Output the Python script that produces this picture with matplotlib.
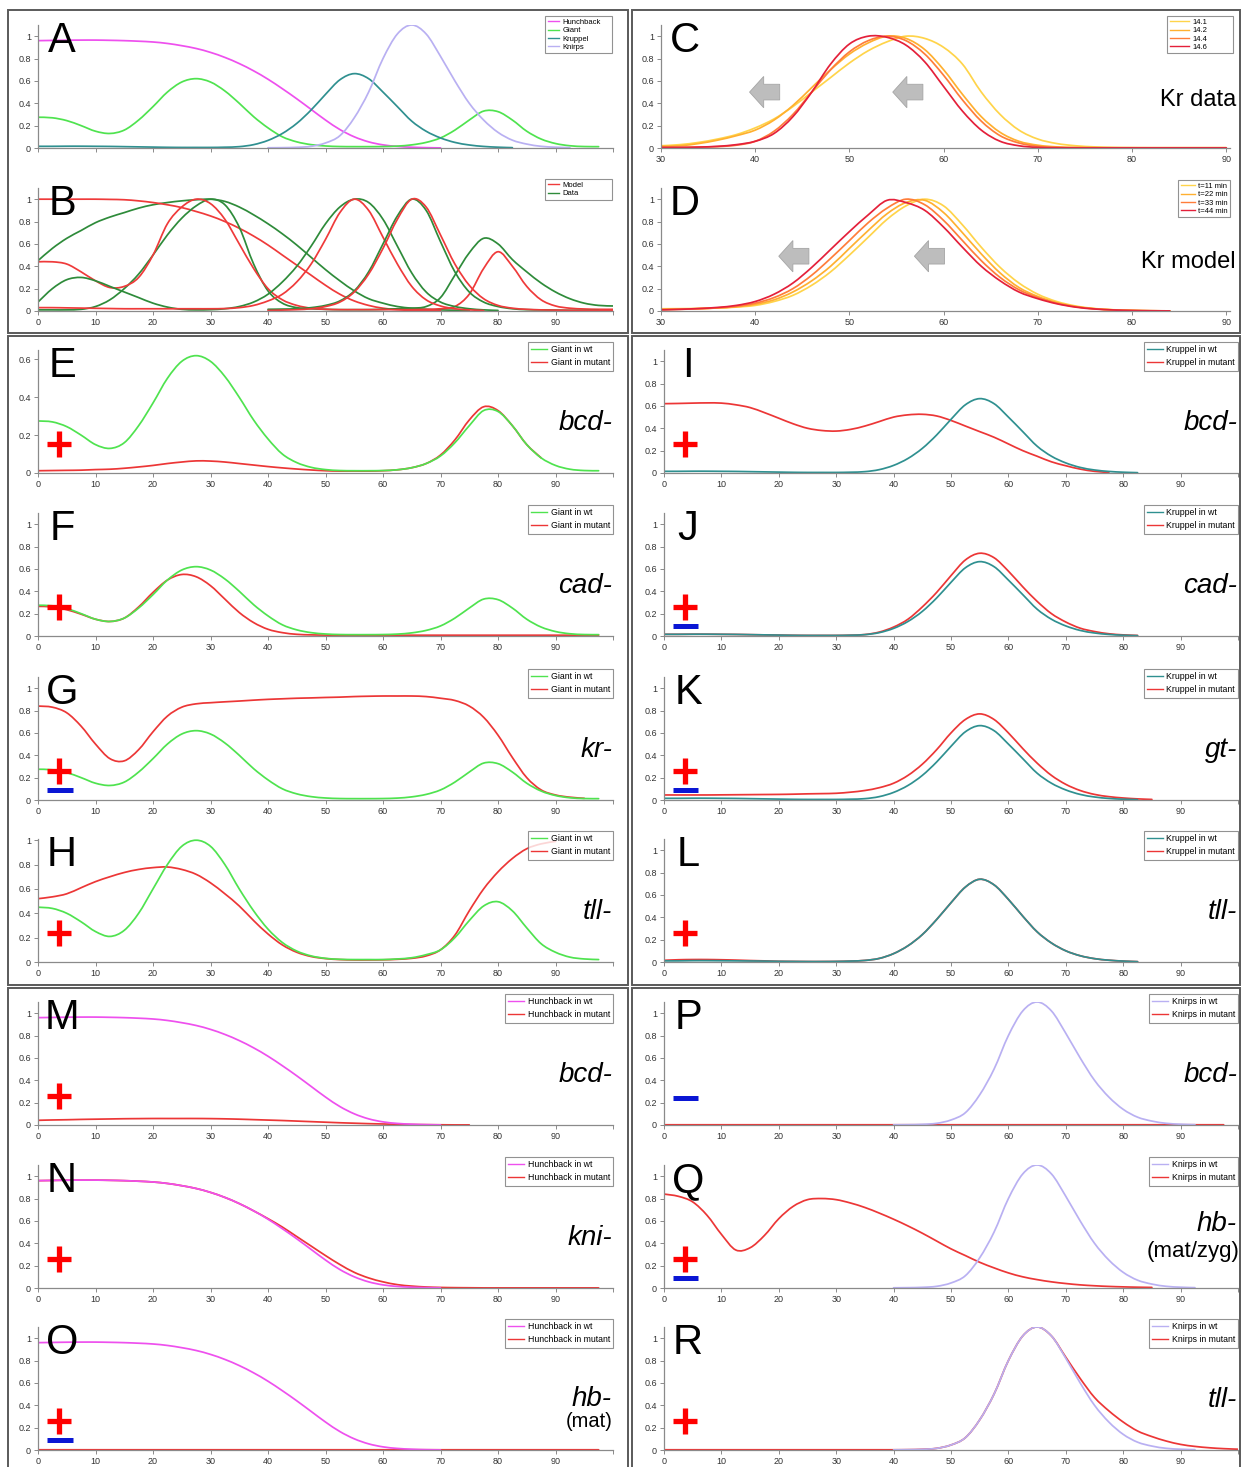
import numpy as np
import matplotlib
matplotlib.use("Agg")
import matplotlib.pyplot as plt
from matplotlib.lines import Line2D
from matplotlib.path import Path
from matplotlib.patches import Rectangle, FancyArrow, PathPatch

plt.rcParams["font.family"] = ["Liberation Sans", "DejaVu Sans"]

nan = np.nan

# position along the embryo (% egg length)
pos = [0, 2.5, 5, 7.5, 10, 12.5, 15, 17.5, 20, 22.5, 25, 27.5, 30, 32.5, 35, 37.5,
       40, 42.5, 45, 47.5, 50, 52.5, 55, 57.5, 60, 62.5, 65, 67.5, 70, 72.5, 75,
       77.5, 80, 82.5, 85, 87.5, 90, 92.5, 95, 97.5, 100]
pos_kr = [30, 32, 34, 36, 38, 40, 42, 44, 46, 48, 50, 52, 54, 56, 58, 60, 62, 64,
          66, 68, 70, 72, 74, 76, 78, 80, 82, 84, 86, 88, 90]

# wild type profiles (panel A and wt curves of E-R)
hb_wt = [0.96, 0.962, 0.964, 0.965, 0.965, 0.963, 0.96, 0.955, 0.948, 0.935, 0.915,
         0.89, 0.855, 0.81, 0.755, 0.69, 0.615, 0.53, 0.44, 0.345, 0.25, 0.165, 0.1,
         0.055, 0.028, 0.014, 0.007, 0.003, 0.001,
         nan, nan, nan, nan, nan, nan, nan, nan, nan, nan, nan, nan]
gt_wt = [0.275, 0.27, 0.245, 0.2, 0.15, 0.13, 0.16, 0.25, 0.37, 0.5, 0.59,
         0.62, 0.59, 0.51, 0.4, 0.28, 0.18, 0.1, 0.055, 0.03, 0.018,
         0.013, 0.012, 0.012, 0.013, 0.017, 0.028, 0.05, 0.09, 0.16, 0.25,
         0.33, 0.325, 0.25, 0.15, 0.08, 0.04, 0.02, 0.013, 0.012, nan]
kr_wt = [0.015, 0.015, 0.016, 0.016, 0.015, 0.014, 0.012, 0.01, 0.008, 0.006, 0.005,
         0.005, 0.005, 0.007, 0.012, 0.03, 0.068, 0.13, 0.22, 0.34, 0.48, 0.61,
         0.665, 0.62, 0.5, 0.37, 0.24, 0.15, 0.09, 0.05, 0.027, 0.014, 0.007, 0.003,
         nan, nan, nan, nan, nan, nan, nan]
kni_wt = [nan, nan, nan, nan, nan, nan, nan, nan, nan, nan, nan, nan, nan, nan, nan, nan,
          0.002, 0.003, 0.006, 0.015, 0.045, 0.11, 0.27, 0.5, 0.8, 1.02, 1.1, 1.02,
          0.82, 0.6, 0.4, 0.25, 0.14, 0.07, 0.035, 0.015, 0.007, 0.003, nan, nan, nan]

# panel B: model vs data, normalised
hb_model = [1.0, 1.0, 1.0, 1.0, 1.0, 0.998, 0.995, 0.985, 0.97, 0.95, 0.925, 0.89,
            0.85, 0.8, 0.74, 0.67, 0.59, 0.5, 0.41, 0.32, 0.23, 0.15, 0.09, 0.05,
            0.025, 0.012, 0.005, 0.002, 0.001,
            nan, nan, nan, nan, nan, nan, nan, nan, nan, nan, nan, nan]
hb_data = [0.45, 0.56, 0.65, 0.72, 0.79, 0.84, 0.88, 0.92, 0.95, 0.97, 0.985, 0.995,
           1.0, 0.98, 0.93, 0.86, 0.78, 0.69, 0.59, 0.48, 0.37, 0.27, 0.18, 0.11,
           0.07, 0.04, 0.025, 0.015, 0.01, 0.007, 0.005,
           nan, nan, nan, nan, nan, nan, nan, nan, nan, nan]
gt_model = [0.44, 0.44, 0.42, 0.35, 0.27, 0.21, 0.22, 0.3, 0.5, 0.78, 0.93,
            1.0, 0.96, 0.82, 0.6, 0.38, 0.2, 0.1, 0.05, 0.025, 0.015,
            0.012, 0.012, 0.012, 0.012, 0.012, 0.012, 0.015, 0.02, 0.04, 0.15,
            0.38, 0.53, 0.4, 0.22, 0.1, 0.045, 0.025, 0.018, 0.015, 0.015]
gt_data = [0.01, 0.01, 0.01, 0.015, 0.04, 0.1, 0.2, 0.33, 0.5, 0.68, 0.83,
           0.94, 1.0, 0.95, 0.75, 0.42, 0.18, 0.07, 0.03, 0.02, 0.015,
           0.012, 0.012, 0.012, 0.015, 0.02, 0.025, 0.04, 0.12, 0.32, 0.52,
           0.65, 0.6, 0.46, 0.35, 0.25, 0.17, 0.11, 0.07, 0.05, 0.045]
kr_model = [0.03, 0.03, 0.028, 0.026, 0.024, 0.022, 0.02, 0.02, 0.02, 0.02, 0.02,
            0.02, 0.02, 0.022, 0.03, 0.05, 0.09, 0.15, 0.26, 0.42, 0.64, 0.88,
            1.0, 0.9, 0.66, 0.42, 0.22, 0.1, 0.045, 0.02, 0.01, 0.005,
            nan, nan, nan, nan, nan, nan, nan, nan, nan]
kr_data = [0.08, 0.2, 0.28, 0.3, 0.27, 0.22, 0.17, 0.12, 0.07, 0.035, 0.015,
           0.01, 0.012, 0.02, 0.04, 0.08, 0.15, 0.26, 0.4, 0.58, 0.78, 0.93,
           1.0, 0.97, 0.82, 0.58, 0.34, 0.17, 0.08, 0.04, 0.02, 0.01, 0.005,
           nan, nan, nan, nan, nan, nan, nan, nan]
kni_model = [nan, nan, nan, nan, nan, nan, nan, nan, nan, nan, nan, nan, nan, nan, nan, nan,
             0.005, 0.008, 0.012, 0.02, 0.04, 0.08, 0.17, 0.33, 0.56, 0.82, 1.0, 0.93,
             0.68, 0.42, 0.23, 0.11, 0.05, 0.025, 0.015, 0.01, 0.008, 0.006, 0.006,
             0.006, 0.006]
kni_data = [nan, nan, nan, nan, nan, nan, nan, nan, nan, nan, nan, nan, nan, nan, nan, nan,
            0.015, 0.017, 0.02, 0.03, 0.05, 0.09, 0.18, 0.35, 0.6, 0.85, 1.0, 0.9,
            0.62, 0.35, 0.17, 0.08, 0.04, 0.02, 0.012, 0.01, 0.008, 0.006, 0.005,
            0.005, nan]

# panels C, D: Kruppel domain shift
kr_times_data = ["14.1", "14.2", "14.4", "14.6"]
kr_141 = [0.02, 0.03, 0.05, 0.08, 0.12, 0.18, 0.26, 0.37, 0.5, 0.63, 0.76, 0.87, 0.95,
          1.0, 0.98, 0.9, 0.75, 0.5, 0.3, 0.16, 0.08, 0.04, 0.02, 0.01, 0.005, 0.003,
          0.002, 0.002, 0.002, 0.002, 0.002]
kr_142 = [0.015, 0.02, 0.04, 0.07, 0.11, 0.16, 0.25, 0.38, 0.54, 0.7, 0.84, 0.94, 1.0,
          0.98, 0.88, 0.7, 0.48, 0.28, 0.14, 0.06, 0.025, 0.01, 0.005, 0.003,
          0.002, 0.002, 0.002, 0.002, 0.002, 0.002, 0.002]
kr_144 = [0.005, 0.006, 0.008, 0.012, 0.025, 0.06, 0.15, 0.3, 0.5, 0.7, 0.86, 0.96, 1.0,
          0.96, 0.84, 0.65, 0.43, 0.24, 0.11, 0.045, 0.015, 0.005, 0.003,
          0.002, 0.002, 0.002, 0.002, 0.002, 0.002, 0.002, 0.002]
kr_146 = [0.005, 0.005, 0.008, 0.015, 0.03, 0.06, 0.13, 0.28, 0.5, 0.75, 0.93, 1.0, 0.99,
          0.92, 0.77, 0.55, 0.33, 0.16, 0.06, 0.02, 0.005, 0.002,
          0.001, 0.001, 0.001, 0.001, 0.001, 0.001, 0.001, 0.001, 0.001]
kr_times_model = ["t=11 min", "t=22 min", "t=33 min", "t=44 min"]
kr_t11 = [0.02, 0.021, 0.023, 0.027, 0.035, 0.05, 0.085, 0.14, 0.23, 0.35, 0.5, 0.66,
          0.82, 0.94, 1.0, 0.94, 0.77, 0.57, 0.39, 0.25, 0.15, 0.085, 0.045, 0.022,
          0.011, 0.005, 0.002, 0.001, nan, nan, nan]
kr_t22 = [0.015, 0.017, 0.021, 0.027, 0.038, 0.06, 0.1, 0.17, 0.27, 0.4, 0.56, 0.72,
          0.87, 0.97, 0.99, 0.88, 0.7, 0.51, 0.34, 0.21, 0.13, 0.075, 0.04, 0.02,
          0.01, 0.005, 0.002, 0.001, nan, nan, nan]
kr_t33 = [0.012, 0.015, 0.02, 0.028, 0.042, 0.07, 0.12, 0.2, 0.32, 0.47, 0.63, 0.79,
          0.92, 1.0, 0.95, 0.81, 0.63, 0.45, 0.3, 0.19, 0.12, 0.07, 0.038, 0.02,
          0.01, 0.005, 0.002, 0.001, nan, nan, nan]
kr_t44 = [0.01, 0.015, 0.022, 0.032, 0.05, 0.085, 0.15, 0.25, 0.39, 0.55, 0.71, 0.86,
          0.99, 0.97, 0.9, 0.75, 0.57, 0.4, 0.27, 0.17, 0.11, 0.065, 0.035, 0.018,
          0.009, 0.004, 0.002, 0.001, nan, nan, nan]

# mutant profiles
gt_bcd = [0.012, 0.013, 0.014, 0.015, 0.018, 0.02, 0.025, 0.032, 0.04, 0.05, 0.058,
          0.064, 0.063, 0.058, 0.05, 0.042, 0.034, 0.027, 0.021, 0.016, 0.012,
          0.01, 0.01, 0.01, 0.012, 0.017, 0.028, 0.05, 0.095, 0.175, 0.28,
          0.35, 0.33, 0.25, 0.15, 0.08, nan, nan, nan, nan, nan]
gt_cad = [0.265, 0.26, 0.235, 0.195, 0.15, 0.13, 0.16, 0.26, 0.39, 0.5, 0.55,
          0.53, 0.45, 0.33, 0.21, 0.12, 0.06, 0.03, 0.015, 0.01, 0.008,
          0.007, 0.007, 0.007, 0.007, 0.007, 0.007, 0.007, 0.007, 0.007, 0.007,
          0.007, 0.007, 0.007, 0.007, 0.007, 0.007, 0.007, 0.007, 0.007, nan]
gt_kr = [0.84, 0.83, 0.78, 0.66, 0.5, 0.37, 0.35, 0.45, 0.61, 0.75, 0.83,
         0.86, 0.87, 0.878, 0.885, 0.893, 0.9, 0.905, 0.91, 0.913, 0.917,
         0.92, 0.925, 0.928, 0.93, 0.93, 0.93, 0.925, 0.91, 0.89, 0.84,
         0.74, 0.58, 0.38, 0.2, 0.09, 0.045, 0.025, 0.015, nan, nan]
gt_wt_h = [0.45, 0.44, 0.4, 0.33, 0.25, 0.21, 0.26, 0.4, 0.6, 0.8, 0.95,
           1.0, 0.95, 0.8, 0.6, 0.42, 0.27, 0.16, 0.09, 0.05, 0.03,
           0.022, 0.02, 0.02, 0.02, 0.025, 0.035, 0.06, 0.1, 0.2, 0.34,
           0.46, 0.495, 0.42, 0.28, 0.15, 0.08, 0.04, 0.025, 0.02, nan]
gt_tll = [0.52, 0.535, 0.56, 0.61, 0.66, 0.7, 0.735, 0.76, 0.775, 0.78, 0.76,
          0.72, 0.65, 0.56, 0.46, 0.34, 0.23, 0.14, 0.08, 0.045, 0.028,
          0.02, 0.017, 0.017, 0.018, 0.022, 0.03, 0.05, 0.1, 0.22, 0.42,
          0.6, 0.74, 0.85, 0.93, 0.97, 0.99, nan, nan, nan, nan]
kr_bcd = [0.62, 0.622, 0.625, 0.627, 0.625, 0.61, 0.585, 0.54, 0.49, 0.44, 0.4,
          0.38, 0.375, 0.39, 0.42, 0.46, 0.5, 0.52, 0.525, 0.51, 0.47,
          0.42, 0.37, 0.32, 0.26, 0.2, 0.15, 0.1, 0.065, 0.035, 0.015, 0.005,
          nan, nan, nan, nan, nan, nan, nan, nan, nan]
kr_cad = [0.015, 0.015, 0.016, 0.016, 0.015, 0.014, 0.012, 0.01, 0.008, 0.006, 0.005,
          0.005, 0.005, 0.007, 0.013, 0.035, 0.08, 0.15, 0.26, 0.39, 0.54,
          0.68, 0.74, 0.7, 0.58, 0.44, 0.31, 0.2, 0.125, 0.07, 0.04,
          0.02, 0.01, 0.005, nan, nan, nan, nan, nan, nan, nan]
kr_gt = [0.045, 0.045, 0.045, 0.045, 0.046, 0.047, 0.048, 0.049, 0.05, 0.052, 0.055,
         0.057, 0.06, 0.07, 0.085, 0.11, 0.15, 0.22, 0.32, 0.45, 0.6,
         0.72, 0.77, 0.72, 0.6, 0.46, 0.33, 0.22, 0.14, 0.085, 0.05,
         0.03, 0.018, 0.01, 0.005, nan, nan, nan, nan, nan, nan]
kr_wt_l = [0.01, 0.01, 0.012, 0.012, 0.011, 0.01, 0.009, 0.008, 0.006, 0.005, 0.004,
           0.004, 0.005, 0.008, 0.014, 0.032, 0.075, 0.145, 0.245, 0.38, 0.53,
           0.67, 0.74, 0.69, 0.56, 0.41, 0.27, 0.17, 0.1, 0.056, 0.03,
           0.016, 0.008, 0.003, nan, nan, nan, nan, nan, nan, nan]
kr_tll = [0.015, 0.02, 0.022, 0.022, 0.02, 0.017, 0.013, 0.01, 0.006, 0.005, 0.004,
          0.004, 0.005, 0.008, 0.014, 0.032, 0.075, 0.145, 0.245, 0.38, 0.53,
          0.67, 0.74, 0.69, 0.56, 0.41, 0.27, 0.17, 0.1, 0.056, 0.03,
          0.016, 0.008, 0.003, nan, nan, nan, nan, nan, nan, nan]
hb_bcd = [0.042, 0.045, 0.047, 0.05, 0.052, 0.054, 0.056, 0.057, 0.058, 0.058, 0.058,
          0.058, 0.057, 0.055, 0.052, 0.048, 0.044, 0.04, 0.035, 0.03, 0.025,
          0.02, 0.016, 0.012, 0.009, 0.006, 0.004, 0.003, 0.002, 0.001, 0.001,
          nan, nan, nan, nan, nan, nan, nan, nan, nan, nan]
hb_kni = [0.96, 0.962, 0.964, 0.965, 0.965, 0.963, 0.96, 0.955, 0.948, 0.935, 0.915,
          0.89, 0.855, 0.81, 0.755, 0.69, 0.62, 0.545, 0.46, 0.375, 0.29,
          0.21, 0.14, 0.09, 0.055, 0.03, 0.017, 0.009, 0.005, 0.003, 0.002,
          0.001, 0.001, 0.001, 0.001, 0.001, 0.001, 0.001, 0.001, 0.001, nan]
hb_hbmat = [0.002, 0.002, 0.002, 0.002, 0.002, 0.002, 0.002, 0.002, 0.002, 0.002,
            0.002, 0.002, 0.002, 0.002, 0.002, 0.002, 0.002, 0.002, 0.002, 0.002,
            0.002, 0.002, 0.002, 0.002, 0.002, 0.002, 0.002, 0.002, 0.002, 0.002,
            0.002, 0.002, 0.002, 0.002, 0.002, 0.002, 0.002, 0.002, 0.002, 0.002, nan]
kni_bcd = [0.002, 0.002, 0.002, 0.002, 0.002, 0.002, 0.002, 0.002, 0.002, 0.002,
           0.002, 0.002, 0.002, 0.002, 0.002, 0.002, 0.002, 0.002, 0.002, 0.002,
           0.002, 0.002, 0.002, 0.002, 0.002, 0.002, 0.002, 0.002, 0.002, 0.002,
           0.002, 0.002, 0.002, 0.002, 0.002, 0.002, 0.002, 0.002, 0.002, 0.002, nan]
kni_hb = [0.84, 0.82, 0.77, 0.65, 0.48, 0.34, 0.36, 0.47, 0.62, 0.73, 0.79,
          0.8, 0.79, 0.76, 0.72, 0.67, 0.615, 0.555, 0.49, 0.42, 0.35,
          0.29, 0.23, 0.18, 0.135, 0.1, 0.075, 0.055, 0.04, 0.028, 0.02,
          0.014, 0.01, 0.007, 0.005, nan, nan, nan, nan, nan, nan]
kni_tll = [0.002, 0.002, 0.002, 0.002, 0.002, 0.002, 0.002, 0.002, 0.002, 0.002,
           0.002, 0.002, 0.002, 0.002, 0.002, 0.002,
           0.002, 0.003, 0.006, 0.015, 0.045, 0.11, 0.27, 0.5, 0.8, 1.02, 1.1, 1.02,
           0.83, 0.64, 0.47, 0.35, 0.25, 0.17, 0.12, 0.08, 0.05, 0.032, 0.02,
           0.012, 0.007]

HB, GT, KR, KNI = "#ee50ee", "#4fe34f", "#2f9090", "#b9b0f2"
MUT = "#ec3636"
MODEL, DATA = "#ef3a3a", "#2e8b3a"
C_TIMES = ["#ffd44a", "#ffb030", "#ff7d3a", "#e4203a"]
AXIS = "#8a8a8a"

W, H = 1242, 1467
AX_H = 123
LW = 1.25

fig = plt.figure(figsize=(W / 100, H / 100), dpi=100)


def new_ax(left, right, base):
    return fig.add_axes([left / W, 1 - base / H, (right - left) / W, AX_H / H])


def curve(ax, xs, ys, color):
    # smoothed line through the sampled points (like a spreadsheet "smoothed line")
    xs = np.asarray(xs, float)
    ys = np.asarray(ys, float)
    idx = np.flatnonzero(~np.isnan(ys))
    runs = np.split(idx, np.flatnonzero(np.diff(idx) > 1) + 1)
    for r in runs:
        if len(r) < 2:
            continue
        p = np.column_stack([xs[r], ys[r]])
        pe = np.vstack([p[0], p, p[-1]])
        verts, codes = [p[0]], [Path.MOVETO]
        for i in range(len(p) - 1):
            c1 = pe[i + 1] + (pe[i + 2] - pe[i]) / 6
            c2 = pe[i + 2] - (pe[i + 3] - pe[i + 1]) / 6
            verts += [c1, c2, pe[i + 2]]
            codes += [Path.CURVE4] * 3
        ax.add_patch(PathPatch(Path(verts, codes), fill=False, edgecolor=color,
                               lw=LW, capstyle="round", joinstyle="round"))


def dress(ax, xlim, ylim, yticks, xticks, xlabels=True):
    ax.set_xlim(xlim)
    ax.set_ylim(ylim)
    for side in ("top", "right"):
        ax.spines[side].set_visible(False)
    for side in ("left", "bottom"):
        ax.spines[side].set_color(AXIS)
        ax.spines[side].set_linewidth(0.9)
    ax.set_yticks(yticks)
    ax.set_yticklabels([f"{t:g}" for t in yticks])
    ax.set_xticks(xticks)
    if xlabels:
        ax.set_xticklabels([str(t) if t < 100 else "" for t in xticks])
    else:
        ax.set_xticklabels([])
    ax.tick_params(length=3, width=0.7, color=AXIS, labelsize=6.5,
                   labelcolor="#333333", pad=2)
    ax.patch.set_alpha(0)


def legend(ax, handles, labels, size=6.3, spacing=0.5, hlen=1.8, box=None):
    kw = dict(fontsize=size, frameon=True, fancybox=False, handlelength=hlen,
              handletextpad=0.4, borderpad=0.35, labelspacing=spacing, borderaxespad=0)
    if box is None:
        leg = ax.legend(handles, labels, loc="upper right",
                        bbox_to_anchor=(1.0, 1 + 8 / AX_H), **kw)
    else:
        leg = ax.legend(handles, labels, loc="upper left", mode="expand",
                        bbox_to_anchor=(box[0], 1 + 9 / AX_H, box[1], 0), **kw)
    leg.get_frame().set_edgecolor("#777777")
    leg.get_frame().set_linewidth(0.8)
    leg.set_zorder(5)


def letter(ax, s):
    ax.annotate(s, xy=(0, 0.78), xycoords="axes fraction", xytext=(24, 0),
                textcoords="offset pixels", ha="center", va="baseline", fontsize=30)


def label(ax, s, y=0.35, italic=True, size=20, dx=-1):
    ax.annotate(s, xy=(1, y), xycoords="axes fraction", xytext=(dx, 0),
                textcoords="offset pixels", ha="right", va="baseline",
                fontsize=size, fontstyle="italic" if italic else "normal")


def plus(ax, y=29):
    yf = y / AX_H
    ax.plot([0.016, 0.058], [yf, yf], transform=ax.transAxes, color="#ff0000",
            lw=3.8, solid_capstyle="butt", clip_on=False, zorder=6)
    ax.plot([0.037, 0.037], [yf - 13 / AX_H, yf + 13 / AX_H], transform=ax.transAxes,
            color="#ff0000", lw=3.8, solid_capstyle="butt", clip_on=False, zorder=6)


def minus(ax, y=10):
    yf = y / AX_H
    ax.plot([0.016, 0.060], [yf, yf], transform=ax.transAxes, color="#0a16d4",
            lw=3.6, solid_capstyle="butt", clip_on=False, zorder=6)


def lh(color):
    return Line2D([], [], color=color, lw=1.0)


full_ticks = list(range(0, 101, 10))
y_ticks = [0, 0.2, 0.4, 0.6, 0.8, 1]

# ---- frames around the panel groups
for (x0, y0, x1, y1) in [(8, 10, 628, 333), (632, 10, 1240, 333),
                         (8, 336, 628, 985), (632, 336, 1240, 985),
                         (8, 988, 628, 1475), (632, 988, 1240, 1475)]:
    fig.patches.append(Rectangle((x0 / W, 1 - y1 / H), (x1 - x0) / W, (y1 - y0) / H,
                                 transform=fig.transFigure, fill=False,
                                 edgecolor="#5a5a5a", lw=1.4))

# ---- A
ax = new_ax(38, 613, 148)
for ys, c in [(hb_wt, HB), (gt_wt, GT), (kr_wt, KR), (kni_wt, KNI)]:
    curve(ax, pos, ys, c)
dress(ax, (0, 100), (0, 1.1), y_ticks, full_ticks, xlabels=False)
legend(ax, [lh(HB), lh(GT), lh(KR), lh(KNI)], ["Hunchback", "Giant", "Kruppel", "Knirps"],
       size=5.5, spacing=0.12, hlen=1.5, box=(0.882, 0.117))
letter(ax, "A")

# ---- B
ax = new_ax(38, 613, 311)
for m, d in [(hb_model, hb_data), (gt_model, gt_data), (kr_model, kr_data),
             (kni_model, kni_data)]:
    curve(ax, pos, d, DATA)
    curve(ax, pos, m, MODEL)
dress(ax, (0, 100), (0, 1.1), y_ticks, full_ticks)
legend(ax, [lh(MODEL), lh(DATA)], ["Model", "Data"], size=5.5, spacing=0.12, hlen=1.5,
       box=(0.882, 0.117))
letter(ax, "B")

# ---- C
ax = new_ax(661, 1230, 148)
for ys, c in zip([kr_141, kr_142, kr_144, kr_146], C_TIMES):
    curve(ax, pos_kr, ys, c)
dress(ax, (30, 90.4), (0, 1.1), y_ticks, list(range(30, 91, 10)))
legend(ax, [lh(c) for c in C_TIMES], kr_times_data, size=5.5, spacing=0.12, hlen=2.6,
       box=(0.889, 0.116))
for tail in (42.6, 57.8):
    ax.add_patch(FancyArrow(tail, 0.5, -3.2, 0, width=0.14, head_width=0.28,
                            head_length=1.5, length_includes_head=True,
                            fc="#bdbdbd", ec="#a5a5a5", lw=0.6, zorder=4))
letter(ax, "C")
label(ax, "Kr data", y=0.34, italic=False, size=17, dx=6)

# ---- D
ax = new_ax(661, 1230, 311)
for ys, c in zip([kr_t11, kr_t22, kr_t33, kr_t44], C_TIMES):
    curve(ax, pos_kr, ys, c)
dress(ax, (30, 90.4), (0, 1.1), y_ticks, list(range(30, 91, 10)))
legend(ax, [lh(c) for c in C_TIMES], kr_times_model, size=5.5, spacing=0.12, hlen=1.8)
for tail in (45.7, 60.1):
    ax.add_patch(FancyArrow(tail, 0.49, -3.2, 0, width=0.14, head_width=0.28,
                            head_length=1.5, length_includes_head=True,
                            fc="#bdbdbd", ec="#a5a5a5", lw=0.6, zorder=4))
letter(ax, "D")
label(ax, "Kr model", y=0.35, italic=False, size=17, dx=6)

# ---- mutant panels
LEFT, RIGHT = (38, 613), (664, 1238)
panels = [
    ("E", LEFT, 473, gt_wt, gt_bcd, GT, "Giant", ["bcd-"], "+", (0, 0.65)),
    ("F", LEFT, 636, gt_wt, gt_cad, GT, "Giant", ["cad-"], "+", (0, 1.1)),
    ("G", LEFT, 800, gt_wt, gt_kr, GT, "Giant", ["kr-"], "+-", (0, 1.1)),
    ("H", LEFT, 962, gt_wt_h, gt_tll, GT, "Giant", ["tll-"], "+", (0, 1.01)),
    ("I", RIGHT, 473, kr_wt, kr_bcd, KR, "Kruppel", ["bcd-"], "+", (0, 1.1)),
    ("J", RIGHT, 636, kr_wt, kr_cad, KR, "Kruppel", ["cad-"], "+-", (0, 1.1)),
    ("K", RIGHT, 800, kr_wt, kr_gt, KR, "Kruppel", ["gt-"], "+-", (0, 1.1)),
    ("L", RIGHT, 962, kr_wt_l, kr_tll, KR, "Kruppel", ["tll-"], "+", (0, 1.1)),
    ("M", LEFT, 1125, hb_wt, hb_bcd, HB, "Hunchback", ["bcd-"], "+", (0, 1.1)),
    ("N", LEFT, 1288, hb_wt, hb_kni, HB, "Hunchback", ["kni-"], "+", (0, 1.1)),
    ("O", LEFT, 1450, hb_wt, hb_hbmat, HB, "Hunchback", ["hb-", "(mat)"], "+-", (0, 1.1)),
    ("P", RIGHT, 1125, kni_wt, kni_bcd, KNI, "Knirps", ["bcd-"], "-", (0, 1.1)),
    ("Q", RIGHT, 1288, kni_wt, kni_hb, KNI, "Knirps", ["hb-", "(mat/zyg)"], "+-", (0, 1.1)),
    ("R", RIGHT, 1450, kni_wt, kni_tll, KNI, "Knirps", ["tll-"], "+", (0, 1.1)),
]

for name, (x0, x1), base, wt, mut, col, gene, glabel, marks, ylim in panels:
    ax = new_ax(x0, x1, base)
    curve(ax, pos, mut, MUT)
    curve(ax, pos, wt, col)
    yt = [0, 0.2, 0.4, 0.6] if ylim[1] < 1 else y_ticks
    dress(ax, (0, 100), ylim, yt, full_ticks)
    legend(ax, [lh(col), lh(MUT)], [f"{gene} in wt", f"{gene} in mutant"])
    letter(ax, name)
    if len(glabel) == 1:
        label(ax, glabel[0])
    else:
        if name == "Q":
            label(ax, glabel[0], y=0.46)
            label(ax, glabel[1], y=0.25, italic=False, size=16, dx=1)
        else:
            label(ax, glabel[0], y=0.355)
            label(ax, glabel[1], y=0.185, italic=False, size=14.5, dx=0)
    if "+" in marks:
        plus(ax)
    if "-" in marks:
        minus(ax, 10 if "+" in marks else 27)

fig.savefig("out.png", dpi=100)
